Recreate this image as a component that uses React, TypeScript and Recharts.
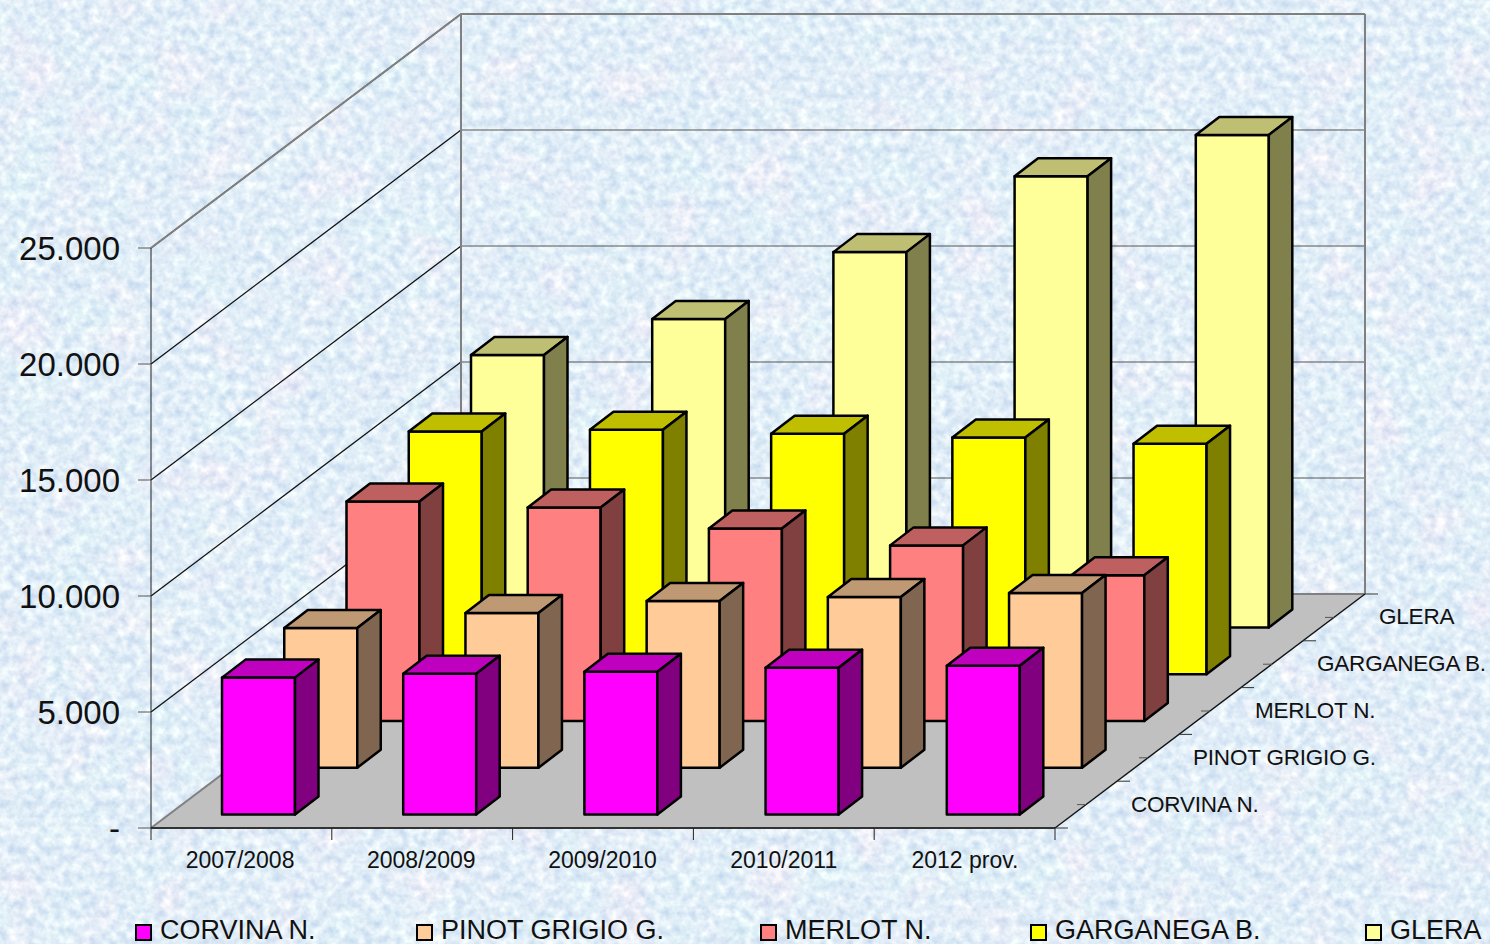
import { Bar, BarChart, CartesianGrid, Legend, ReferenceArea, XAxis, YAxis } from 'recharts';

const FONT = '"Liberation Sans", Arial, sans-serif';

const categories = ['2007/2008', '2008/2009', '2009/2010', '2010/2011', '2012 prov.'];
const seriesNames = ['CORVINA N.', 'PINOT GRIGIO G.', 'MERLOT N.', 'GARGANEGA B.', 'GLERA'];

const corvina = [5900, 6070, 6150, 6330, 6410];
const pinotGrigio = [6020, 6670, 7190, 7360, 7530];
const merlot = [9460, 9200, 8300, 7570, 6280];
const garganega = [10460, 10540, 10370, 10200, 9940];
const glera = [11750, 13300, 16180, 19450, 21230];

const valueTicks = [0, 5000, 10000, 15000, 20000, 25000];
const depthTicks = [0, 0.5, 1, 1.5, 2, 2.5, 3, 3.5, 4, 4.5, 5];

const seriesValues = [corvina, pinotGrigio, merlot, garganega, glera];
const frontColors = ['#ff00ff', '#ffcc99', '#ff8080', '#ffff00', '#ffff99'];
const topColors = ['#bf00bf', '#bf9973', '#bf6060', '#bfbf00', '#bfbf73'];
const sideColors = ['#800080', '#806650', '#804040', '#808000', '#80804d'];
const legendLefts = [135, 416, 760, 1030, 1365];

const data = categories.map((category, c) => {
  const row: Record<string, string | number> = { category };
  seriesNames.forEach((name, s) => {
    row[name] = seriesValues[s][c];
  });
  return row;
});

// oblique projection of the floor, the whole depth of the chart
const DEPTH_X = 310;
const DEPTH_Y = 234;
const PLOT_LEFT = 151;
const PLOT_RIGHT = 1055;
const PLOT_BOTTOM = 828;
const BAND = (PLOT_RIGHT - PLOT_LEFT) / categories.length;

function Walls({ y, height }: any) {
  const x = PLOT_LEFT;
  const right = PLOT_RIGHT;
  const bottom = y + height;
  return (
    <g>
      <polygon
        points={`${x},${bottom} ${right},${bottom} ${right + DEPTH_X},${bottom - DEPTH_Y} ${x + DEPTH_X},${bottom - DEPTH_Y}`}
        fill="#c0c0c0"
      />
      <line x1={x} y1={bottom} x2={x + DEPTH_X} y2={bottom - DEPTH_Y} stroke="#808080" strokeWidth={2} />
      <line x1={x + DEPTH_X} y1={y - DEPTH_Y} x2={x + DEPTH_X} y2={bottom - DEPTH_Y} stroke="#808080" strokeWidth={2} />
      <line x1={right + DEPTH_X} y1={y - DEPTH_Y} x2={right + DEPTH_X} y2={bottom - DEPTH_Y} stroke="#808080" strokeWidth={2} />
      <line x1={x} y1={y} x2={x + DEPTH_X} y2={y - DEPTH_Y} stroke="#808080" strokeWidth={2} />
      <line x1={x + DEPTH_X} y1={y - DEPTH_Y} x2={right + DEPTH_X} y2={y - DEPTH_Y} stroke="#808080" strokeWidth={2} />
      <line x1={x + DEPTH_X} y1={bottom - DEPTH_Y} x2={right + DEPTH_X} y2={bottom - DEPTH_Y} stroke="#808080" strokeWidth={2} />
      <line x1={x} y1={bottom} x2={right} y2={bottom} stroke="#333" strokeWidth={2} />
      <line x1={right} y1={bottom} x2={right + DEPTH_X} y2={bottom - DEPTH_Y} stroke="#111" strokeWidth={1.4} />
    </g>
  );
}

function gridLine({ y1, y2 }: any) {
  if (y1 >= PLOT_BOTTOM - 1) {
    return <g key="floor" />;
  }
  return (
    <g key={y1}>
      <line x1={PLOT_LEFT} y1={y1} x2={PLOT_LEFT + DEPTH_X} y2={y1 - DEPTH_Y} stroke="#111" strokeWidth={1.3} />
      <line x1={PLOT_LEFT + DEPTH_X} y1={y2 - DEPTH_Y} x2={PLOT_RIGHT + DEPTH_X} y2={y2 - DEPTH_Y} stroke="#555" strokeWidth={1} />
    </g>
  );
}

function Box({ x, y, width, height, index }: any) {
  const slot = index;
  const left = x + 17 + slot * 62.25;
  const top = y - 13.5 - slot * 46.75;
  const right = left + width;
  const bottom = top + height;
  const dx = 23.5;
  const dy = 18;
  return (
    <g stroke="#000" strokeWidth={2.5} strokeLinejoin="round">
      <rect x={left} y={top} width={width} height={height} fill={frontColors[slot]} />
      <polygon
        points={`${left},${top} ${left + dx},${top - dy} ${right + dx},${top - dy} ${right},${top}`}
        fill={topColors[slot]}
      />
      <polygon
        points={`${right},${top} ${right + dx},${top - dy} ${right + dx},${bottom - dy} ${right},${bottom}`}
        fill={sideColors[slot]}
      />
    </g>
  );
}

function CategoryTick({ x, payload, index }: any) {
  const tickX = PLOT_LEFT + index * BAND;
  return (
    <g>
      <line x1={tickX} y1={PLOT_BOTTOM} x2={tickX} y2={PLOT_BOTTOM + 12} stroke="#222" />
      {index === categories.length - 1 && (
        <line x1={PLOT_RIGHT} y1={PLOT_BOTTOM} x2={PLOT_RIGHT} y2={PLOT_BOTTOM + 12} stroke="#222" />
      )}
      <text x={x - 1.5} y={868} textAnchor="middle" fontSize={23} fontFamily={FONT} fill="#111">
        {payload.value}
      </text>
    </g>
  );
}

function DepthTick({ payload }: any) {
  const frac = payload.value / seriesNames.length;
  const edgeX = PLOT_RIGHT + frac * DEPTH_X;
  const edgeY = PLOT_BOTTOM - frac * DEPTH_Y;
  const major = Number.isInteger(payload.value);
  if (major) {
    return <line x1={edgeX} y1={edgeY} x2={edgeX + 13} y2={edgeY} stroke="#333" />;
  }
  return (
    <g>
      <line x1={edgeX - 9} y1={edgeY} x2={edgeX} y2={edgeY} stroke="#555" />
      <text x={edgeX + 45} y={edgeY + 7} fontSize={22.5} fontFamily={FONT} fill="#111" letterSpacing={-0.2}>
        {seriesNames[Math.floor(payload.value)]}
      </text>
    </g>
  );
}

function ChartLegend() {
  return (
    <div style={{ position: 'relative', height: 34, fontFamily: FONT, fontSize: 27, color: '#111', whiteSpace: 'nowrap' }}>
      {seriesNames.map((name, i) => (
        <div
          key={name}
          style={{ position: 'absolute', left: legendLefts[i], top: 0, display: 'flex', alignItems: 'center', gap: 8, height: 34 }}
        >
          <span style={{ width: 13, height: 13, border: '2px solid #000', background: frontColors[i], marginTop: 4 }} />
          <span>{name}</span>
        </div>
      ))}
    </div>
  );
}

function Paper() {
  return (
    <svg width={1490} height={944} style={{ position: 'absolute', left: 0, top: 0 }}>
      <filter id="paper" x="0" y="0" width="100%" height="100%" colorInterpolationFilters="sRGB">
        <feTurbulence type="fractalNoise" baseFrequency="0.11" numOctaves={3} seed={7} result="fine" />
        <feColorMatrix
          in="fine"
          type="matrix"
          values="0.3 0 0 0 0.73  0.22 0 0 0 0.82  0.1 0 0 0 0.92  0 0 0 0 1"
          result="grain"
        />
        <feTurbulence type="fractalNoise" baseFrequency="0.02" numOctaves={2} seed={3} result="coarse" />
        <feColorMatrix
          in="coarse"
          type="matrix"
          values="0.14 0 0 0 -0.07  0 0.05 0 0 -0.025  0 0 0 0 0  0 0 0 0 1"
          result="tint"
        />
        <feComposite in="grain" in2="tint" operator="arithmetic" k1="0" k2="1" k3="1" k4="0" />
      </filter>
      <rect width={1490} height={944} filter="url(#paper)" />
    </svg>
  );
}

export default function App() {
  return (
    <div style={{ position: 'absolute', left: 0, top: 0, width: 1490, height: 944, overflow: 'hidden' }}>
      <Paper />
      <div style={{ position: 'absolute', left: 0, top: 0 }}>
        <BarChart
          width={1490}
          height={944}
          data={data}
          barSize={73}
          barGap={-73}
          margin={{ top: 248, right: 433, bottom: 85, left: 0 }}
        >
          <ReferenceArea y1={0} y2={25000} shape={<Walls />} fillOpacity={1} />
          <CartesianGrid horizontal={gridLine} vertical={false} />
          <XAxis
            dataKey="category"
            height={30}
            interval={0}
            tickLine={false}
            axisLine={false}
            tick={<CategoryTick />}
          />
          <XAxis
            xAxisId="depth"
            type="number"
            domain={[0, 5]}
            ticks={depthTicks}
            interval={0}
            height={1}
            axisLine={false}
            tickLine={false}
            tick={<DepthTick />}
          />
          <YAxis
            width={151}
            domain={[0, 25000]}
            ticks={valueTicks}
            interval={0}
            tickSize={13}
            tickMargin={18}
            tickLine={{ stroke: '#555' }}
            axisLine={{ stroke: '#222' }}
            tick={{ fontSize: 33, fontFamily: FONT, fill: '#111' }}
            tickFormatter={(v: number) => (v === 0 ? '-' : v.toLocaleString('de-DE'))}
          />
          {[4, 3, 2, 1, 0].map((s) => (
            <Bar
              key={seriesNames[s]}
              dataKey={seriesNames[s]}
              isAnimationActive={false}
              shape={(props: any) => <Box {...props} index={s} />}
            />
          ))}
          <Legend
            verticalAlign="middle"
            content={<ChartLegend />}
            wrapperStyle={{ left: 0, top: 913, width: 1490, bottom: 'auto' }}
          />
        </BarChart>
      </div>
    </div>
  );
}
